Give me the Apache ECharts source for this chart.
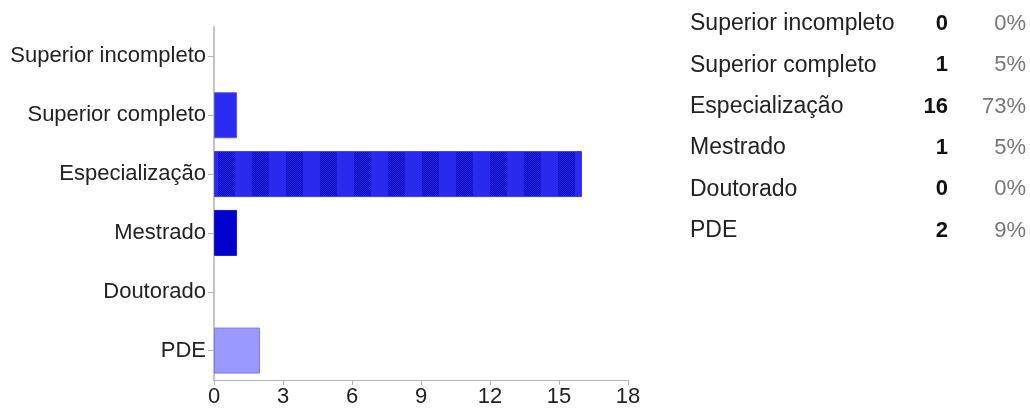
<!DOCTYPE html>
<html lang="pt-BR">
  <head>
    <meta charset="utf-8" />
    <title>Escolaridade</title>
    <style>
      * {
        margin: 0;
        padding: 0;
      }

      #chart-container {
        position: relative;
        width: 1030px;
        height: 413px;
        overflow: hidden;
        background: #fff;
      }
    </style>
  </head>

  <body>
    <div id="chart-container"></div>
    <script src="https://cdn.jsdelivr.net/npm/echarts@6/dist/echarts.min.js"></script>
    <script>
      var categories = [
        "Superior incompleto",
        "Superior completo",
        "Especialização",
        "Mestrado",
        "Doutorado",
        "PDE",
      ];
      var counts = [0, 1, 16, 1, 0, 2];
      var percents = ["0%", "5%", "73%", "5%", "0%", "9%"];
      var xTicks = [0, 3, 6, 9, 12, 15, 18];

      // listras da barra de Especialização
      function stripes() {
        var c = document.createElement("canvas");
        c.width = 34;
        c.height = 2;
        var ctx = c.getContext("2d");
        ctx.fillStyle = "#2a2aee";
        ctx.fillRect(0, 0, 34, 2);
        for (var x = 14; x < 31; x++) {
          for (var y = 0; y < 2; y++) {
            ctx.fillStyle = (x + y) % 2 ? "#0c0cbc" : "#2424e0";
            ctx.fillRect(x, y, 1, 1);
          }
        }
        return c;
      }

      var barColors = [
        "#2a2af0",
        "#2a2af0",
        { image: stripes(), repeat: "repeat" },
        "#0000cc",
        "#0000cc",
        "#9999ff",
      ];
      var borderColors = ["#5555ff", "#5555ff", "#3a3aff", "#1a1add", "#1a1add", "#7b7bff"];

      var dom = document.getElementById("chart-container");
      var myChart = echarts.init(dom, null, { renderer: "canvas" });

      var font = "'Liberation Sans', Arial, sans-serif";
      var graphic = [];
      categories.forEach(function (name, i) {
        var y = 24 + i * 41.3;
        graphic.push({
          type: "text",
          x: 690,
          y: y,
          style: {
            text: name,
            font: "23px " + font,
            fill: "#222",
            verticalAlign: "middle",
          },
        });
        graphic.push({
          type: "text",
          x: 948,
          y: y,
          style: {
            text: String(counts[i]),
            font: "bold 22px " + font,
            fill: "#111",
            align: "right",
            verticalAlign: "middle",
          },
        });
        graphic.push({
          type: "text",
          x: 1026,
          y: y,
          style: {
            text: percents[i],
            font: "22px " + font,
            fill: "#777",
            align: "right",
            verticalAlign: "middle",
          },
        });
      });

      var option = {
        animation: false,
        grid: {
          left: 214,
          top: 27,
          right: 402,
          bottom: 33,
        },
        xAxis: {
          type: "value",
          min: xTicks[0],
          max: xTicks[xTicks.length - 1],
          interval: 3,
          splitLine: { show: false },
          axisLine: { show: true, lineStyle: { color: "#b5b5b5", width: 1 } },
          axisTick: { show: true, length: 5, lineStyle: { color: "#b5b5b5" } },
          axisLabel: {
            color: "#222",
            fontSize: 22,
            fontFamily: "Liberation Sans",
            margin: 6,
          },
        },
        yAxis: {
          type: "category",
          inverse: true,
          data: categories,
          axisLine: { show: true, lineStyle: { color: "#c4c4c4", width: 2 } },
          axisTick: {
            show: true,
            alignWithLabel: true,
            length: 6,
            lineStyle: { color: "#b5b5b5" },
          },
          axisLabel: {
            color: "#222",
            fontSize: 22,
            fontFamily: "Liberation Sans",
            margin: 8,
            padding: [4, 0, 0, 0],
          },
        },
        graphic: graphic,
        series: [
          {
            type: "bar",
            barWidth: 46,
            data: counts.map(function (v, i) {
              return {
                value: v,
                itemStyle: {
                  color: barColors[i],
                  borderColor: borderColors[i],
                  borderWidth: v ? 1 : 0,
                },
              };
            }),
          },
        ],
      };

      myChart.setOption(option);
      window.addEventListener("resize", myChart.resize);
    </script>
  </body>
</html>
